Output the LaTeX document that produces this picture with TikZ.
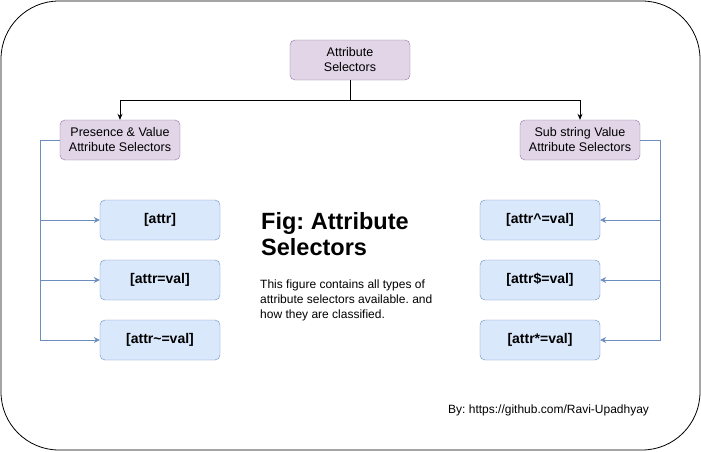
\documentclass[tikz,border=0pt]{standalone}
\usepackage{fontspec}
\setmainfont{Liberation Sans}
\usetikzlibrary{arrows.meta}
\definecolor{pfill}{HTML}{E1D5E7}
\definecolor{pdraw}{HTML}{9673A6}
\definecolor{bfill}{HTML}{DAE8FC}
\definecolor{bdraw}{HTML}{6C8EBF}
\begin{document}
\frenchspacing
\begin{tikzpicture}[x=1pt,y=-1pt,
  pbox/.style={draw=pdraw,fill=pfill,rounded corners=5pt,minimum width=120pt,minimum height=40pt,inner sep=0pt,align=center,font=\fontsize{12.5}{15}\selectfont},
  bbox/.style={draw=bdraw,fill=bfill,rounded corners=5pt,minimum width=120pt,minimum height=40pt,inner sep=0pt,font=\fontsize{14}{16}\selectfont\bfseries},
  blk/.style={line width=0.8pt,-{Stealth[length=6pt,width=5pt]}},
  blu/.style={draw=bdraw,line width=0.8pt,-{Stealth[length=6pt,width=6pt,inset=2pt]}}]
\useasboundingbox (0,0) rectangle (701,451);
\draw[line width=0.8pt,rounded corners=58pt] (1,1) rectangle (700,450);
\node[pbox] (root) at (350,60) {Attribute\\Selectors};
\node[pbox] (pv) at (120,140) {Presence \& Value\\Attribute Selectors};
\node[pbox] (ss) at (580,140) {Sub string Value\\Attribute Selectors};
\node[bbox] (a1) at (160,220) {[attr]};
\node[bbox] (a2) at (160,280) {[attr=val]};
\node[bbox] (a3) at (160,340) {[attr\textasciitilde=val]};
\node[bbox] (b1) at (540,220) {[attr\textasciicircum=val]};
\node[bbox] (b2) at (540,280) {[attr\$=val]};
\node[bbox] (b3) at (540,340) {[attr*=val]};
\coordinate (j) at (350,100);
\draw[blk] (root.south) -- (j) -| (pv.north);
\draw[blk] (j) -| (ss.north);
\coordinate (lx) at (40,140);
\draw[blu] (pv.west) -- (lx) |- (a3.west);
\draw[blu] (lx |- a1.west) -- (a1.west);
\draw[blu] (lx |- a2.west) -- (a2.west);
\coordinate (rx) at (660,140);
\draw[blu] (ss.east) -- (rx) |- (b3.east);
\draw[blu] (rx |- b1.east) -- (b1.east);
\draw[blu] (rx |- b2.east) -- (b2.east);
\node[anchor=north west,inner sep=0pt,align=left,font=\fontsize{23.5}{26}\selectfont\bfseries] (title) at (261,212) {Fig: Attribute\\Selectors};
\node[anchor=north west,inner sep=0pt,align=left,font=\fontsize{12}{15}\selectfont] (desc) at (260,280) {This figure contains all types of\\attribute selectors available. and\\how they are classified.};
\node[anchor=west,inner sep=0pt,font=\fontsize{12}{14}\selectfont] (by) at (448,410) {By: https://github.com/Ravi-Upadhyay};
\end{tikzpicture}
\end{document}
